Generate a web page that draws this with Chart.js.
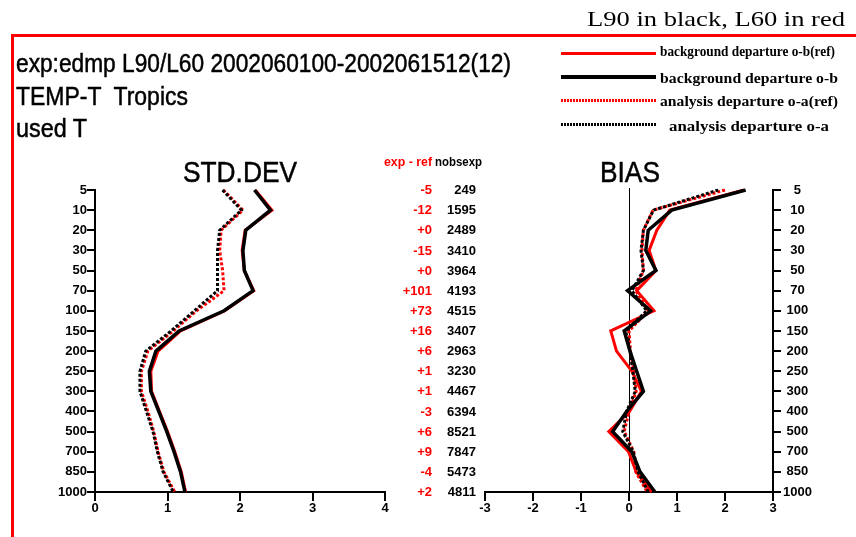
<!DOCTYPE html>
<html><head><meta charset="utf-8"><title>TEMP-T Tropics</title>
<script src="https://cdn.jsdelivr.net/npm/chart.js@4.4.1/dist/chart.umd.min.js"></script>
<style>
html,body{margin:0;padding:0;background:#fff;overflow:hidden;}
#wrap{position:relative;width:856px;height:537px;background:#fff;overflow:hidden;}
#wrap canvas{position:absolute;left:0;top:0;}
.txt{position:absolute;white-space:pre;transform-origin:0 0;}
.heavy{-webkit-text-stroke:0.5px currentColor;}
.bar{position:absolute;background:#f00;}
.lg{position:absolute;left:561px;width:95px;}
</style></head><body>
<div id="wrap">
<canvas id="cStd" width="856" height="537" style="width:856px;height:537px"></canvas>
<canvas id="cBias" width="856" height="537" style="width:856px;height:537px"></canvas>
<div class="bar" style="left:11px;top:34px;width:845px;height:3px"></div>
<div class="bar" style="left:11px;top:34px;width:3px;height:503px"></div>
<div class="lg" style="top:52px;height:3px;background:#f00"></div>
<div class="lg" style="top:75px;height:4px;background:#000"></div>
<div class="lg" style="top:99px;height:3px;background:repeating-linear-gradient(to right,#f00 0 2px,transparent 2px 3px)"></div>
<div class="lg" style="top:123px;height:3px;background:repeating-linear-gradient(to right,#000 0 2px,transparent 2px 3px)"></div>
</div>
<script>
// ---- data ----
const levels = ['5','10','20','30','50','70','100','150','200','250','300','400','500','700','850','1000'];
const stdXTicks = [0, 1, 2, 3, 4];
const biasXTicks = [-3, -2, -1, 0, 1, 2, 3];

const stdObRef = [2.21, 2.44, 2.07, 2.03, 2.06, 2.19, 1.79, 1.18, 0.87, 0.77, 0.78, 0.89, 1.00, 1.10, 1.19, 1.25];
const stdObExp = [2.20, 2.42, 2.08, 2.04, 2.06, 2.18, 1.78, 1.16, 0.84, 0.75, 0.77, 0.88, 0.99, 1.09, 1.18, 1.24];
const stdOaRef = [1.77, 2.04, 1.74, 1.72, 1.76, 1.78, 1.40, 1.08, 0.73, 0.64, 0.64, 0.73, 0.81, 0.87, 0.95, 1.10];
const stdOaExp = [1.76, 2.02, 1.72, 1.69, 1.69, 1.69, 1.37, 1.05, 0.70, 0.62, 0.62, 0.71, 0.80, 0.86, 0.94, 1.08];

const biasObRef = [2.40, 0.85, 0.58, 0.42, 0.56, 0.16, 0.52, -0.38, -0.26, 0.06, 0.26, 0.01, -0.42, -0.01, 0.15, 0.47];
const biasObExp = [2.43, 0.89, 0.40, 0.35, 0.56, -0.03, 0.45, -0.10, 0.02, 0.16, 0.30, -0.05, -0.34, 0.06, 0.23, 0.54];
const biasOaRef = [2.00, 0.50, 0.30, 0.27, 0.30, 0.14, 0.40, 0.00, 0.03, 0.10, 0.15, 0.00, -0.10, 0.10, 0.14, 0.38];
const biasOaExp = [1.86, 0.51, 0.30, 0.25, 0.30, 0.06, 0.37, -0.07, 0.02, 0.08, 0.13, -0.05, -0.13, 0.09, 0.19, 0.40];

const expMinusRef = ['-5','-12','+0','-15','+0','+101','+73','+16','+6','+1','+1','-3','+6','+9','-4','+2'];
const nobsExp = ['249','1595','2489','3410','3964','4193','4515','3407','2963','3230','4467','6394','8521','7847','5473','4811'];

const seriesNames = ['background departure o-b(ref)','background departure o-b','analysis departure o-a(ref)','analysis departure o-a'];

// ---- layout ----
const W = 856, H = 537;
const TOP = 190, BOTTOM = 492;
const STD_L = 95, STD_R = 385;
const BIAS_L = 485, BIAS_R = 773;
const YAXW = 40, XAXH = 30;
const SANS = "'Liberation Sans', Arial, sans-serif";
const SERIF = "'Liberation Serif', 'Times New Roman', serif";
const tickFont = {family: SANS, size: 13, weight: 'bold'};

function datasets(obRef, obExp, oaRef, oaExp) {
  return [
    {label: seriesNames[1], data: obExp, borderColor: '#000', borderWidth: 3.5, order: 1},
    {label: seriesNames[3], data: oaExp, borderColor: '#000', borderWidth: 3, borderDash: [3, 2], order: 2},
    {label: seriesNames[0], data: obRef, borderColor: '#f00', borderWidth: 3, order: 3},
    {label: seriesNames[2], data: oaRef, borderColor: '#f00', borderWidth: 3, borderDash: [3, 2], order: 4}
  ];
}

function makeOpts(xmin, xmax, xticks, yPos, padding) {
  return {
    indexAxis: 'y', responsive: false, animation: false, devicePixelRatio: 1,
    layout: {padding},
    elements: {point: {radius: 0}, line: {tension: 0, fill: false, borderCapStyle: 'butt'}},
    plugins: {legend: {display: false}, tooltip: {enabled: false}},
    scales: {
      y: {
        type: 'category', position: yPos, offset: false,
        grid: {display: true, drawOnChartArea: false, drawTicks: true, tickLength: 8, color: '#000', lineWidth: 2},
        border: {display: true, color: '#000', width: 2},
        ticks: {color: '#000', font: tickFont, padding: yPos === 'left' ? 0 : 2, autoSkip: false,
                crossAlign: yPos === 'left' ? 'near' : 'center'},
        afterFit(s) { s.width = YAXW; }
      },
      x: {
        type: 'linear', min: xmin, max: xmax,
        afterBuildTicks(s) { s.ticks = xticks.map(v => ({value: v})); },
        grid: {display: true, drawOnChartArea: false, drawTicks: true, tickLength: 9, color: '#000', lineWidth: 2},
        border: {display: true, color: '#000', width: 2},
        ticks: {color: '#000', font: tickFont, padding: 0, autoSkip: false, maxRotation: 0},
        afterFit(s) { s.height = XAXH; }
      }
    }
  };
}

const stdChart = new Chart(document.getElementById('cStd'), {
  type: 'line',
  data: {labels: levels, datasets: datasets(stdObRef, stdObExp, stdOaRef, stdOaExp)},
  options: makeOpts(0, 4, stdXTicks, 'left',
    {left: STD_L - YAXW, right: W - STD_R, top: TOP, bottom: H - BOTTOM - XAXH})
});

const zeroLine = {
  id: 'zeroLine',
  beforeDatasetsDraw(chart) {
    const {ctx, chartArea, scales} = chart;
    const x = Math.round(scales.x.getPixelForValue(0)) + 0.5;
    ctx.save();
    ctx.strokeStyle = '#000'; ctx.lineWidth = 1;
    ctx.beginPath(); ctx.moveTo(x, chartArea.top - 2); ctx.lineTo(x, chartArea.bottom); ctx.stroke();
    ctx.restore();
  }
};

const biasChart = new Chart(document.getElementById('cBias'), {
  type: 'line',
  data: {labels: levels, datasets: datasets(biasObRef, biasObExp, biasOaRef, biasOaExp)},
  options: makeOpts(-3, 3, biasXTicks, 'right',
    {left: BIAS_L, right: W - BIAS_R - YAXW, top: TOP, bottom: H - BOTTOM - XAXH}),
  plugins: [zeroLine]
});

// ---- text ----
const wrap = document.getElementById('wrap');
function addText(txt, x, base, o) {
  const d = document.createElement('div');
  d.className = 'txt' + (o.heavy ? ' heavy' : '');
  d.textContent = txt;
  d.style.font = `${o.weight || 'normal'} ${o.size}px ${o.family || SANS}`;
  d.style.lineHeight = '0';
  d.style.color = o.color || '#000';
  wrap.appendChild(d);
  const w = d.getBoundingClientRect().width;
  const sx = o.width ? o.width / w : 1;
  const dw = w * sx;
  let left = x;
  if (o.align === 'right') left = x - dw;
  else if (o.align === 'center') left = x - dw / 2;
  d.style.left = left + 'px';
  d.style.top = (base - 0.345 * o.size) + 'px';
  if (sx !== 1) d.style.transform = `scaleX(${sx})`;
  return d;
}

addText('L90 in black, L60 in red', 587, 27, {size: 22, family: SERIF, width: 258});
addText('exp:edmp L90/L60 2002060100-2002061512(12)', 16, 72, {size: 26, width: 495, heavy: true});
addText('TEMP-T  Tropics', 16, 105, {size: 26, width: 172, heavy: true});
addText('used T', 16, 137, {size: 26, width: 71, heavy: true});

addText(seriesNames[0], 660, 56, {size: 15, family: SERIF, weight: 'bold', width: 175});
addText(seriesNames[1], 660, 83, {size: 15, family: SERIF, weight: 'bold', width: 178});
addText(seriesNames[2], 660, 106, {size: 15, family: SERIF, weight: 'bold', width: 178});
addText(seriesNames[3], 669, 131, {size: 15, family: SERIF, weight: 'bold', width: 160});

addText('STD.DEV', 240, 182, {size: 30, width: 114, align: 'center', heavy: true});
addText('BIAS', 630, 182, {size: 30, width: 60, align: 'center', heavy: true});

addText('exp - ref', 432, 166, {size: 13, weight: 'bold', color: '#f00', width: 48, align: 'right'});
addText('nobsexp', 435, 166, {size: 13, weight: 'bold', width: 47});

const ys = stdChart.scales.y;
levels.forEach((lv, i) => {
  const y = ys.getPixelForValue(i);
  addText(expMinusRef[i], 432, y + 4.6, {size: 13, weight: 'bold', color: '#f00', align: 'right'});
  addText(nobsExp[i], 476, y + 4.6, {size: 13, weight: 'bold', align: 'right'});
});
</script>
</body></html>
